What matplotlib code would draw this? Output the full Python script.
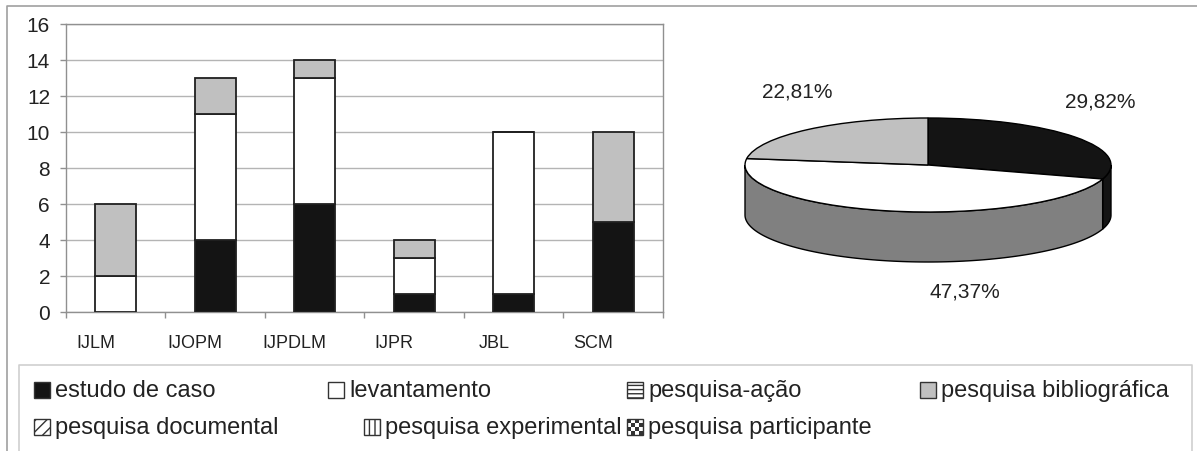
import numpy as np
import matplotlib
matplotlib.use('Agg')
import matplotlib.pyplot as plt
from matplotlib.patches import Rectangle, Polygon
from matplotlib.transforms import Affine2D

plt.rcParams['font.family'] = ['Liberation Sans', 'DejaVu Sans']
plt.rcParams['hatch.linewidth'] = 1.0

# --- data -------------------------------------------------------------------
journals = ['IJLM', 'IJOPM', 'IJPDLM', 'IJPR', 'JBL', 'SCM']
estudo_caso = [0, 4, 6, 1, 1, 5]
levantamento = [2, 7, 7, 2, 9, 0]
bibliografica = [4, 2, 1, 1, 0, 5]

legend_labels = ['estudo de caso', 'levantamento', 'pesquisa-ação',
                 'pesquisa bibliográfica', 'pesquisa documental',
                 'pesquisa experimental', 'pesquisa participante']

W, H = 1197, 452
TXT = '#222222'
BLACK = '#141414'
LGRAY = '#c0c0c0'

fig = plt.figure(figsize=(W / 100, H / 100), dpi=100)

# --- overlay in pixel coords (y down): outer frame + legend -----------------
ov = fig.add_axes([0, 0, 1, 1])
ov.set_xlim(0, W)
ov.set_ylim(H, 0)
ov.axis('off')
ov.plot([7, 7, W], [H, 7, 7], c='#a0a0a0', lw=1.2)
ov.plot([19, 19, 1192, 1192], [H, 366, 366, H], c='#cfcfcf', lw=1.2)

# legend: (marker x, row y) per entry, flow layout as in the source
leg_pos = [(34, 391), (328, 391), (627, 391), (920, 391),
           (34, 428), (364, 428), (627, 428)]
leg_style = [dict(fc=BLACK), dict(fc='white'), dict(fc='white', hatch='----'),
             dict(fc=LGRAY), dict(fc='white', hatch='///'),
             dict(fc='white', hatch='|||'), None]
ms = 16
for lab, (mx, my), st in zip(legend_labels, leg_pos, leg_style):
    if st is None:
        # checker pattern
        n = 4
        s = ms / n
        ov.add_patch(Rectangle((mx, my - ms / 2), ms, ms, fc='white',
                               ec='#333333', lw=1))
        for i in range(n):
            for j in range(n):
                if (i + j) % 2 == 0:
                    ov.add_patch(Rectangle((mx + i * s, my - ms / 2 + j * s), s, s,
                                           fc='#333333', ec='none'))
    else:
        ov.add_patch(Rectangle((mx, my - ms / 2), ms, ms, ec='#333333', lw=1, **st))
    ov.text(mx + ms + 5, my, lab, fontsize=17, color=TXT, va='center', ha='left')

# --- stacked bars -----------------------------------------------------------
ax = fig.add_axes([66 / W, 1 - 313 / H, (663 - 66) / W, (313 - 25) / H])
x = np.arange(len(journals))
bw = 0.41
b1 = np.array(estudo_caso)
b2 = b1 + np.array(levantamento)
ax.bar(x, estudo_caso, bw, color=BLACK, edgecolor='#202020', lw=1.3, zorder=3)
ax.bar(x, levantamento, bw, bottom=b1, color='white', edgecolor='#202020', lw=1.3, zorder=3)
ax.bar(x, bibliografica, bw, bottom=b2, color=LGRAY, edgecolor='#202020', lw=1.3, zorder=3)

ax.set_xlim(-0.5, len(journals) - 0.5)
ax.set_ylim(0, 16)
ax.set_yticks(np.arange(0, 17, 2))
ax.set_xticks(np.arange(-0.5, len(journals), 1))
ax.set_xticklabels([])
ax.set_xticks(x - 0.2, labels=journals, minor=True)
ax.tick_params(axis='x', which='major', length=4, color='#909090', width=1)
ax.tick_params(axis='x', which='minor', length=0, pad=16, labelsize=13, labelcolor=TXT)
ax.tick_params(axis='y', length=4.5, color='#909090', width=1, pad=7,
               labelsize=15, labelcolor=TXT)
ax.grid(axis='y', color='#b4b4b4', lw=1, zorder=0)
for sp in ax.spines.values():
    sp.set_color('#909090')
    sp.set_linewidth(1)

# --- 3D-looking pie (pixel coords, y up) -----------------------------------
totals = [sum(estudo_caso), sum(levantamento), sum(bibliografica)]
pie_cols = [BLACK, 'white', LGRAY]
side_cols = [BLACK, '#808080', '#909090']
cx, cy, r = 928, H - 166, 183
k = 47 / 183
depth = 50

pa = fig.add_axes([0, 0, 1, 1])
wedges, _ = pa.pie(totals, colors=pie_cols, startangle=90, counterclock=False,
                   radius=r, center=(cx, cy),
                   wedgeprops=dict(edgecolor='black', linewidth=1))
squash = Affine2D().translate(-cx, -cy).scale(1, k).translate(cx, cy) + pa.transData
for w in wedges:
    w.set_transform(squash)
    w.set_zorder(3)

# side walls: front half of each wedge (angles -180..0 mod 360)
for w, sc in zip(wedges, side_cols):
    for off in (-360, 0, 360):
        lo = max(w.theta1, -180 + off)
        hi = min(w.theta2, 0 + off)
        if hi <= lo:
            continue
        t = np.radians(np.linspace(lo, hi, 120))
        xs = cx + r * np.cos(t)
        ys = cy + k * r * np.sin(t)
        pts = np.concatenate([np.c_[xs, ys], np.c_[xs[::-1], ys[::-1] - depth]])
        pa.add_patch(Polygon(pts, closed=True, fc=sc, ec='black', lw=1, zorder=2))

pct = [v / sum(totals) * 100 for v in totals]
pie_lab_pos = [(1100, H - 102), (965, H - 292), (797, H - 92)]
for p, (tx, ty) in zip(pct, pie_lab_pos):
    pa.text(tx, ty, f'{p:.2f}%'.replace('.', ','), fontsize=15, color=TXT,
            ha='center', va='center')

pa.set_xlim(0, W)
pa.set_ylim(0, H)
pa.set_aspect('auto')
pa.axis('off')

fig.savefig('out.png', dpi=100)
